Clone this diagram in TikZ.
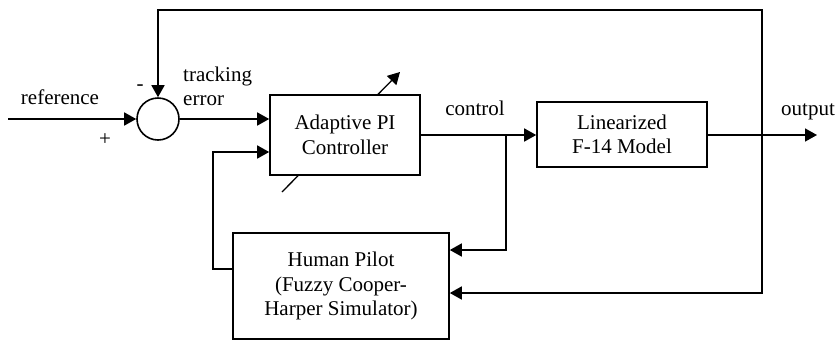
\documentclass[tikz,border=0pt]{standalone}
\usepackage{fontspec}
\setmainfont{Liberation Serif}
\usetikzlibrary{arrows.meta}
\begin{document}
\begin{tikzpicture}[x=1pt,y=-1pt,
  every node/.style={font=\fontsize{21}{24.5}\selectfont, inner sep=0pt},
  blk/.style={draw, line width=1.6pt, fill=white, align=center},
  wire/.style={line width=1.6pt},
  arr/.style={wire, -{Triangle[length=12pt,width=13pt]}},
  lbl/.style={text=black}]
\useasboundingbox (0,0) rectangle (837,341);
% adaptation arrow (drawn under the controller box)
\coordinate (d0) at (282,192);
\coordinate (d1) at (400,72);
\draw[arr, line width=1.3pt] (d0) -- (d1);
% blocks
\node[draw, circle, line width=1.6pt, minimum size=42pt, fill=white] (sum) at (158,119) {};
\node[blk, minimum width=150pt, minimum height=80pt] (apc) at (345,135) {Adaptive PI\\Controller};
\node[blk, minimum width=170pt, minimum height=65pt] (lin) at (622,134.5) {Linearized\\F-14 Model};
\node[blk, minimum width=216pt, minimum height=106pt] (hp) at (341,286) {Human Pilot\\(Fuzzy Cooper-\\Harper Simulator)};
% coordinates
\coordinate (rin) at (8,119);
\coordinate (br) at (506,135);
\coordinate (fb) at (762,135);
\coordinate (out) at (817,135);
\coordinate (top) at (762,10);
\coordinate (left) at (213,269);
% connectors
\draw[arr] (rin) -- (sum.west);
\draw[arr] (sum.east) -- (sum.east -| apc.west);
\draw[arr] (apc.east |- br) -- (lin.west |- br);
\draw[arr] (br) |- (hp.east |- 0,250);
\draw[arr] (lin.east |- out) -- (out);
\draw[arr] (fb) -- (top) -| (sum.north);
\draw[arr] (fb) |- (hp.east |- 0,293);
\draw[arr] (hp.west |- left) -- (left) |- (apc.west |- 0,152);
% labels
\node at (60,97) {reference};
\node at (105,140) {+};
\node at (140,88) {-};
\node[align=left, anchor=west] at (183,86.5) {tracking\\error};
\node at (475,108) {control};
\node at (808,112) {output};
\end{tikzpicture}
\end{document}
